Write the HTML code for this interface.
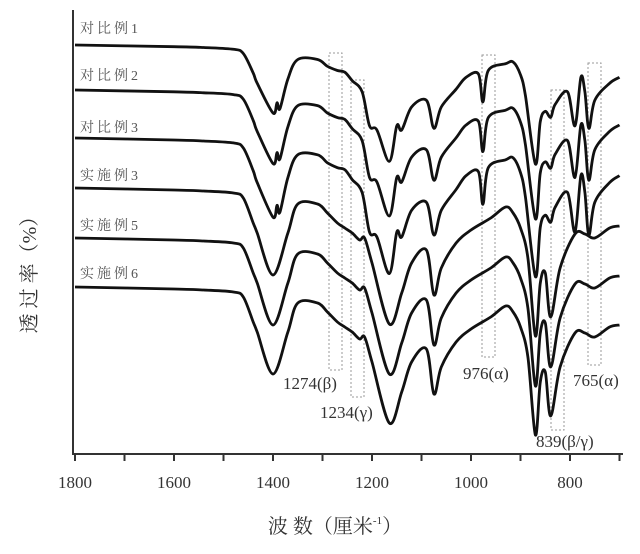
<!DOCTYPE html>
<html><head><meta charset="utf-8"><style>
body{margin:0;background:#fff}
svg{display:block}
.t{font-family:"Liberation Serif","Noto Serif CJK SC",serif;fill:#333}
.c{font-family:"Liberation Serif","Noto Serif CJK SC",serif;fill:#555;font-size:14px;letter-spacing:3px}
</style></head><body>
<svg id="s" width="640" height="554" viewBox="0 0 640 554" xmlns="http://www.w3.org/2000/svg">
<g fill="none" stroke="#999" stroke-width="1" stroke-dasharray="2,2">
<rect x="329" y="53" width="13" height="317"/>
<rect x="351" y="80" width="13" height="317"/>
<rect x="482" y="55" width="13" height="302"/>
<rect x="551" y="90" width="13" height="340"/>
<rect x="588" y="63" width="13" height="302"/>
</g>
<g id="curves" fill="none" stroke="#111" stroke-width="2.8" stroke-linejoin="round"></g>
<g stroke="#333" stroke-width="2" fill="none">
<line x1="73" y1="10" x2="73" y2="455"/>
<line x1="72" y1="454" x2="623" y2="454"/>
</g>
<g id="ticks" stroke="#333" stroke-width="2"></g>
<g class="t" font-size="17" text-anchor="middle">
<text x="75" y="488">1800</text><text x="174" y="488">1600</text><text x="273" y="488">1400</text>
<text x="372" y="488">1200</text><text x="471" y="488">1000</text><text x="570" y="488">800</text>
</g>
<text class="t" x="335" y="533" font-size="20" text-anchor="middle">波 数（厘米<tspan font-size="11" dy="-9">-1</tspan><tspan dy="9">）</tspan></text>
<text class="t" font-size="20" text-anchor="middle" transform="translate(36,270) rotate(-90)">透 过 率（%）</text>
<g class="c">
<text x="80" y="33">对比例1</text><text x="80" y="80">对比例2</text><text x="80" y="132">对比例3</text>
<text x="80" y="180">实施例3</text><text x="80" y="230">实施例5</text><text x="80" y="278">实施例6</text>
</g>
<g class="t" font-size="17">
<text x="283" y="389">1274(β)</text><text x="320" y="418">1234(γ)</text>
<text x="463" y="379">976(α)</text><text x="573" y="386">765(α)</text><text x="536" y="447">839(β/γ)</text>
</g>
</svg>
<script>
var X=function(w){return 75+(1800-w)*0.495;};
var A=[[1800,0],[1600,2],[1540,3],[1480,5],[1460,10],[1440,33],[1432,45],[1400,80],[1392,68],[1386,75],[1370,40],[1350,17],[1310,17],[1290,25],[1270,30],[1255,32],[1240,42],[1220,55],[1205,95],[1190,100],[1165,137],[1150,95],[1140,100],[1120,73],[1090,65],[1075,98],[1060,73],[1030,52],[1010,38],[985,34],[976,67],[965,30],[930,22],[915,20],[900,35],[890,60],[870,140],[860,90],[850,78],[839,85],[830,70],[805,55],[790,95],[778,38],[770,55],[762,98],[750,65],[720,45],[700,38]];
var B=[[1800,0],[1600,2],[1540,3],[1480,5],[1460,10],[1440,35],[1432,45],[1400,87],[1370,45],[1350,16],[1310,16],[1290,25],[1270,35],[1255,40],[1240,45],[1225,52],[1215,50],[1200,75],[1165,136],[1140,105],[1120,75],[1090,62],[1075,107],[1060,80],[1030,55],[1000,42],[960,30],[930,19],[915,25],[900,40],[885,70],[870,148],[860,95],[850,85],[839,129],[820,80],[790,46],[770,46],[750,50],[720,40],[700,38]];
var base=[45,90,138,188,238,287], g=document.getElementById('curves'), h='';
function smooth(P){var d='M'+P[0][0].toFixed(1)+','+P[0][1].toFixed(1);
for(var i=0;i<P.length-1;i++){var p0=P[i-1]||P[i],p1=P[i],p2=P[i+1],p3=P[i+2]||p2;
var c1=[p1[0]+(p2[0]-p0[0])/6,p1[1]+(p2[1]-p0[1])/6],c2=[p2[0]-(p3[0]-p1[0])/6,p2[1]-(p3[1]-p1[1])/6];
d+='C'+c1[0].toFixed(1)+','+c1[1].toFixed(1)+' '+c2[0].toFixed(1)+','+c2[1].toFixed(1)+' '+p2[0].toFixed(1)+','+p2[1].toFixed(1);}
return d;}
for(var i=0;i<6;i++){var T=i<3?A:B;var k=i<3?(0.85+0.07*i):1;
var P=T.map(function(p){return [X(p[0]),base[i]+p[1]*k];});
h+='<path d="'+smooth(P)+'"/>';}
g.innerHTML=h;
var t='';for(var w=1800;w>=700;w-=100){var x=X(w);t+='<line x1="'+x+'" y1="454" x2="'+x+'" y2="461"/>';}
document.getElementById('ticks').innerHTML=t;
</script>
</body></html>
